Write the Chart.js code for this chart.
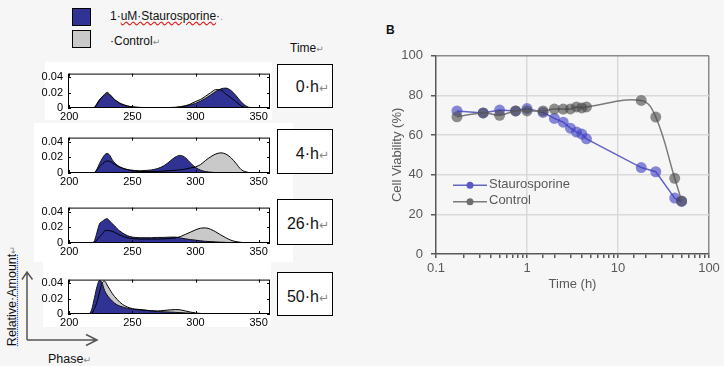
<!DOCTYPE html>
<html>
<head>
<meta charset="utf-8">
<script src="https://cdn.jsdelivr.net/npm/chart.js@4.4.1/dist/chart.umd.min.js"></script>
<style>
    body {
        margin: 0;
        width: 724px;
        height: 366px;
        background: #f6f6f6;
        position: relative;
        overflow: hidden;
        font-family: "Liberation Sans", Arial, sans-serif;
    }
    .white { position: absolute; background: #fff; }
    .txt { position: absolute; white-space: nowrap; color: #111; }
    .mark { color: #888; font-family: "DejaVu Sans", sans-serif; font-size: 0.75em; }
    .swatch { position: absolute; width: 17px; height: 16px; border: 1px solid #000; }
    .tbox {
        position: absolute;
        left: 277px;
        width: 56px;
        background: #fff;
        border: 1px solid #000;
        box-sizing: border-box;
    }
    .tbox > .lbl {
        position: absolute;
        right: 3px;
        font-size: 16px;
        color: #111;
        white-space: nowrap;
    }
    canvas { position: absolute; }
</style>
</head>
<body>

<!-- white backgrounds behind the histogram panels -->
<div class="white" style="left:45px; top:62px; width:227px; height:58px;"></div>
<div class="white" style="left:34px; top:123px; width:259px; height:139px;"></div>
<div class="white" style="left:43px; top:262px; width:228px; height:65px;"></div>

<!-- legend of panel A -->
<div class="swatch" style="left:72px; top:8px; background:#303393;"></div>
<div class="swatch" style="left:72px; top:30px; background:#c9c9c9;"></div>
<div class="txt" style="left:110px; top:9px; font-size:12px;">1·<span style="text-decoration:underline wavy #e02020;">uM·Staurosporine</span>·<span class="mark">.</span></div>
<div class="txt" style="left:110px; top:34px; font-size:12px;">·Control<span class="mark">↵</span></div>
<div class="txt" style="left:290px; top:41px; font-size:12px;">Time<span class="mark">↵</span></div>

<!-- time boxes -->
<div class="tbox" style="top:64px; height:44px;"><span class="lbl" style="top:13px;">0·h<span class="mark">↵</span></span></div>
<div class="tbox" style="top:129px; height:45px;"><span class="lbl" style="top:15px;">4·h<span class="mark">↵</span></span></div>
<div class="tbox" style="top:199px; height:46px;"><span class="lbl" style="top:15px;">26·h<span class="mark">↵</span></span></div>
<div class="tbox" style="top:272px; height:44px;"><span class="lbl" style="top:15px;">50·h<span class="mark">↵</span></span></div>

<!-- axis arrows -->
<svg style="position:absolute; left:0; top:0;" width="724" height="366">
    <g stroke="#555" stroke-width="1.5" fill="none">
        <path d="M27 340 L27 272 M22 279.5 L27 272 L32.5 279.5"/>
        <path d="M27 340 L97 340 M86 334.5 L97 340 L86 345.5"/>
    </g>
</svg>
<div class="txt" style="left:12px; top:296px; font-size:12.5px; transform:translate(-50%,-50%) rotate(-90deg);"><span style="text-decoration:underline dotted #2040ff;">Relative·Amount</span><span class="mark">↵</span></div>
<div class="txt" style="left:48px; top:352px; font-size:12.5px;">Phase<span class="mark">↵</span></div>

<div class="txt" style="left:386px; top:23px; font-size:12px; font-weight:bold;">B</div>

<canvas id="h0" width="232" height="62" style="left:40px; top:62px;"></canvas>
<canvas id="h4" width="232" height="63" style="left:40px; top:126px;"></canvas>
<canvas id="h26" width="232" height="63" style="left:40px; top:196px;"></canvas>
<canvas id="h50" width="232" height="62" style="left:40px; top:268px;"></canvas>
<canvas id="viability" width="334" height="256" style="left:390px; top:40px;"></canvas>

<script>
// ============ DATA ============
// panel A: phase bins and relative amount per bin
const phase = [208, 216, 218, 220, 222, 224, 226, 228, 230, 232, 234, 236, 238, 240, 244, 248, 252, 256, 260, 265,
    270, 275, 280, 284, 288, 292, 296, 300, 304, 308, 312, 316, 320, 324, 328, 332, 336, 340, 344, 348, 356];

const stauro0h = [0, 0, 0, 0.001, 0.006, 0.011, 0.0145, 0.017, 0.019, 0.017, 0.0138, 0.0105, 0.008, 0.0058, 0.0033, 0.0018, 0.001, 0.0006, 0.0005, 0.0005,
    0.0005, 0.0005, 0.0006, 0.0007, 0.0014, 0.0025, 0.004, 0.006, 0.009, 0.0127, 0.017, 0.0215, 0.025, 0.026, 0.023, 0.0164, 0.0084, 0.0025, 0.0004, 0, 0];
const control0h = [0, 0, 0.0003, 0.0008, 0.005, 0.01, 0.0145, 0.018, 0.0205, 0.018, 0.0145, 0.011, 0.0085, 0.0065, 0.0038, 0.002, 0.0012, 0.0008, 0.0006, 0.0006,
    0.0006, 0.0006, 0.0007, 0.0009, 0.0017, 0.003, 0.0052, 0.0085, 0.0112, 0.0155, 0.02, 0.024, 0.0235, 0.0183, 0.0135, 0.0084, 0.003, 0.0003, 0, 0, 0];

const stauro4h = [0, 0, 0, 0.0007, 0.005, 0.012, 0.018, 0.023, 0.0248, 0.0227, 0.017, 0.0128, 0.01, 0.0078, 0.0053, 0.0039, 0.0032, 0.0028, 0.0032, 0.0039,
    0.0057, 0.0092, 0.0153, 0.0202, 0.0224, 0.0195, 0.0128, 0.0071, 0.0036, 0.0018, 0.001, 0.0005, 0.0003, 0.0002, 0.0001, 0, 0, 0, 0, 0, 0];
const control4h = [0, 0, 0, 0.0005, 0.004, 0.008, 0.011, 0.014, 0.0152, 0.015, 0.013, 0.011, 0.009, 0.0075, 0.005, 0.0034, 0.0025, 0.002, 0.0018, 0.0018,
    0.002, 0.0025, 0.003, 0.0035, 0.004, 0.005, 0.0065, 0.0077, 0.0107, 0.016, 0.0206, 0.0241, 0.0256, 0.0241, 0.0195, 0.0124, 0.0046, 0.0014, 0.0003, 0, 0];

const stauro26h = [0, 0, 0.0005, 0.003, 0.0138, 0.0245, 0.0273, 0.0298, 0.0309, 0.028, 0.0245, 0.0217, 0.018, 0.0153, 0.011, 0.0082, 0.0071, 0.0067, 0.0067, 0.0067,
    0.0071, 0.0071, 0.0075, 0.0075, 0.0064, 0.0053, 0.0043, 0.0036, 0.0028, 0.0021, 0.0018, 0.0014, 0.001, 0.0008, 0.0006, 0.0005, 0.0004, 0.0003, 0.0001, 0, 0];
const control26h = [0, 0, 0.0002, 0.001, 0.004, 0.008, 0.011, 0.0153, 0.016, 0.0156, 0.015, 0.0135, 0.0117, 0.01, 0.0075, 0.006, 0.0053, 0.005, 0.005, 0.005,
    0.005, 0.0053, 0.0057, 0.0064, 0.0082, 0.011, 0.0138, 0.0167, 0.0188, 0.0192, 0.0174, 0.0142, 0.0103, 0.0067, 0.0036, 0.0018, 0.0008, 0.0003, 0, 0, 0];

const stauro50h = [0, 0.0007, 0.0072, 0.0216, 0.036, 0.044, 0.0407, 0.0306, 0.0248, 0.0205, 0.017, 0.014, 0.0119, 0.0104, 0.0083, 0.0068, 0.0058, 0.0054, 0.005, 0.004,
    0.0032, 0.0029, 0.0025, 0.0022, 0.0018, 0.0014, 0.0011, 0.0007, 0.0005, 0.0004, 0.0004, 0.0003, 0.0003, 0.0003, 0.0002, 0.0002, 0.0002, 0.0002, 0.0002, 0.0002, 0.0001];
const control50h = [0, 0, 0.0015, 0.0072, 0.016, 0.0288, 0.0407, 0.043, 0.0378, 0.0324, 0.027, 0.0227, 0.019, 0.0155, 0.0108, 0.0079, 0.0065, 0.0058, 0.005, 0.0043,
    0.004, 0.0047, 0.0054, 0.0058, 0.0054, 0.004, 0.0025, 0.0014, 0.0007, 0.0003, 0.0002, 0.0002, 0.0001, 0, 0, 0, 0, 0, 0, 0, 0];

const phaseTicks = [200, 250, 300, 350];
const amountTicks = [0, 0.02, 0.04];

// panel B: cell viability over time
const timeHours = [0.17, 0.33, 0.5, 0.75, 1, 1.5, 2, 2.5, 3, 3.5, 4, 4.5, 18, 26, 42, 50];
const viabilityStauro = [72.2, 71.2, 72.6, 72.2, 73.4, 71.4, 68.4, 66.5, 63.5, 61.5, 60.5, 58.1, 43.6, 41.5, 28.2, 26.5];
const viabilityControl = [69.2, 71.2, 70, 72.2, 72.2, 72.2, 73.1, 73.1, 73.2, 74.2, 73.7, 74.2, 77.5, 69.1, 38.2, 26.8];
const timeTicks = [0.1, 1, 10, 100];
const viabilityTicks = [0, 20, 40, 60, 80, 100];

// ============ COLOURS ============
const BLUE_FILL = '#303393';
const GRAY_FILL = '#c9c9c9';
const B_TEXT = '#595959';

// ============ HISTOGRAMS ============
function toXY(xs, ys) {
    return xs.map((x, i) => ({ x: x, y: ys[i] }));
}

// MATLAB-style box with inward ticks on all four sides
const boxPlugin = {
    id: 'matlabBox',
    afterDraw(chart) {
        const { ctx, chartArea: a, scales } = chart;
        ctx.save();
        ctx.strokeStyle = '#000';
        ctx.lineWidth = 1;
        ctx.strokeRect(a.left + 0.5, a.top + 0.5, a.right - a.left - 1, a.bottom - a.top - 1);
        ctx.beginPath();
        phaseTicks.forEach(v => {
            const x = Math.round(scales.x.getPixelForValue(v)) + 0.5;
            ctx.moveTo(x, a.top); ctx.lineTo(x, a.top + 3);
            ctx.moveTo(x, a.bottom); ctx.lineTo(x, a.bottom - 3);
        });
        amountTicks.forEach(v => {
            const y = Math.round(scales.y.getPixelForValue(v)) + 0.5;
            ctx.moveTo(a.left, y); ctx.lineTo(a.left + 3, y);
            ctx.moveTo(a.right, y); ctx.lineTo(a.right - 3, y);
        });
        ctx.stroke();
        ctx.restore();
    }
};

function makeHist(id, stauro, control) {
    const tickFont = { family: '"Liberation Sans", Arial, sans-serif', size: 11 };
    return new Chart(document.getElementById(id), {
        type: 'line',
        data: {
            datasets: [
                // control outline on top
                { data: toXY(phase, control), fill: false, borderColor: '#000', borderWidth: 1, pointRadius: 0, order: 1 },
                { data: toXY(phase, stauro), fill: 'origin', backgroundColor: BLUE_FILL, borderColor: '#111', borderWidth: 1, pointRadius: 0, order: 2 },
                { data: toXY(phase, control), fill: 'origin', backgroundColor: GRAY_FILL, borderWidth: 0, pointRadius: 0, order: 3 }
            ]
        },
        options: {
            responsive: false,
            animation: false,
            devicePixelRatio: 1,
            cubicInterpolationMode: 'monotone',
            layout: { padding: { top: 4, right: 2, left: 0, bottom: 0 } },
            plugins: { legend: { display: false }, tooltip: { enabled: false } },
            scales: {
                x: {
                    type: 'linear', min: 199, max: 359,
                    afterBuildTicks: s => { s.ticks = phaseTicks.map(v => ({ value: v })); },
                    afterFit: s => { s.height = 16; },
                    grid: { display: false, drawTicks: false },
                    border: { display: false },
                    ticks: { font: tickFont, color: '#000', padding: 2, maxRotation: 0, autoSkip: false }
                },
                y: {
                    min: 0, max: 0.045,
                    afterBuildTicks: s => { s.ticks = amountTicks.map(v => ({ value: v })); },
                    afterFit: s => { s.width = 28; },
                    grid: { display: false, drawTicks: false },
                    border: { display: false },
                    ticks: {
                        font: tickFont, color: '#000', padding: 5,
                        callback: v => v === 0 ? '0' : v.toFixed(2)
                    }
                }
            }
        },
        plugins: [boxPlugin]
    });
}

makeHist('h0', stauro0h, control0h);
makeHist('h4', stauro4h, control4h);
makeHist('h26', stauro26h, control26h);
makeHist('h50', stauro50h, control50h);

// ============ VIABILITY CHART ============
function isDecade(v) {
    const l = Math.log10(v);
    return Math.abs(l - Math.round(l)) < 1e-6;
}

const STAURO_LINE = '#6464c4';
const STAURO_DOT = 'rgba(64, 64, 196, 0.62)';
const CONTROL_LINE = '#7a7a7a';
const CONTROL_DOT = 'rgba(70, 70, 70, 0.6)';

const legendItems = [
    { text: 'Staurosporine', line: STAURO_LINE, dot: '#5a5ac0' },
    { text: 'Control', line: CONTROL_LINE, dot: '#6e6e6e' }
];

const innerLegend = {
    id: 'innerLegend',
    afterDraw(chart) {
        const { ctx, chartArea: a } = chart;
        ctx.save();
        ctx.font = '13px "Liberation Sans", Arial, sans-serif';
        ctx.textBaseline = 'middle';
        legendItems.forEach((item, i) => {
            const y = a.top + 129.5 + i * 16.5;
            const x0 = a.left + 17;
            ctx.strokeStyle = item.line;
            ctx.lineWidth = 1.5;
            ctx.beginPath();
            ctx.moveTo(x0, y); ctx.lineTo(x0 + 34, y);
            ctx.stroke();
            ctx.fillStyle = item.dot;
            ctx.beginPath();
            ctx.arc(x0 + 17, y, 3.5, 0, Math.PI * 2);
            ctx.fill();
            ctx.fillStyle = B_TEXT;
            ctx.fillText(item.text, x0 + 36, y - 1);
        });
        ctx.restore();
    }
};

const bFont = { family: '"Liberation Sans", Arial, sans-serif', size: 13 };

new Chart(document.getElementById('viability'), {
    type: 'line',
    data: {
        labels: timeHours,
        datasets: [
            {
                label: 'Control',
                data: viabilityControl,
                borderColor: CONTROL_LINE,
                borderWidth: 1.5,
                tension: 0.4,
                pointRadius: 5.5,
                pointBackgroundColor: CONTROL_DOT,
                pointBorderWidth: 0,
                order: 1
            },
            {
                label: 'Staurosporine',
                data: viabilityStauro,
                borderColor: STAURO_LINE,
                borderWidth: 1.5,
                tension: 0,
                pointRadius: 5.5,
                pointBackgroundColor: STAURO_DOT,
                pointBorderWidth: 0,
                order: 2
            }
        ]
    },
    options: {
        responsive: false,
        animation: false,
        devicePixelRatio: 1,
        layout: { padding: { top: 15, right: 15, left: 0, bottom: 0 } },
        plugins: { legend: { display: false }, tooltip: { enabled: false } },
        scales: {
            x: {
                type: 'logarithmic',
                min: 0.1, max: 100,
                afterFit: s => { s.height = 42; },
                border: { display: true, color: B_TEXT, width: 1.5 },
                grid: {
                    lineWidth: 1.5,
                    tickLength: 4,
                    tickColor: B_TEXT,
                    color: ctx => {
                        const v = ctx.tick.value;
                        if (!isDecade(v) || v <= 0.1) return 'rgba(0,0,0,0)';
                        if (v >= 100) return '#8a8a8a';
                        return '#d9d9d9';
                    }
                },
                ticks: {
                    font: bFont, color: B_TEXT, padding: 3, maxRotation: 0, autoSkip: false,
                    callback: v => timeTicks.some(t => Math.abs(t - v) < 1e-9) ? String(v) : ''
                },
                title: { display: true, text: 'Time (h)', font: bFont, color: B_TEXT, padding: { top: 0, bottom: 4 } }
            },
            y: {
                min: 0, max: 100,
                afterBuildTicks: s => { s.ticks = viabilityTicks.map(v => ({ value: v })); },
                afterFit: s => { s.width = 46; },
                border: { display: true, color: B_TEXT, width: 1.5 },
                grid: {
                    lineWidth: 1.5,
                    tickLength: 5,
                    tickColor: B_TEXT,
                    color: ctx => {
                        const v = ctx.tick.value;
                        if (v === 0) return 'rgba(0,0,0,0)';
                        if (v === 100) return '#8a8a8a';
                        return '#d9d9d9';
                    }
                },
                ticks: { font: bFont, color: B_TEXT, padding: 8 },
                title: { display: true, text: 'Cell Viability (%)', font: bFont, color: B_TEXT, padding: { top: 0, bottom: 0 } }
            }
        }
    },
    plugins: [innerLegend]
});
</script>
</body>
</html>
